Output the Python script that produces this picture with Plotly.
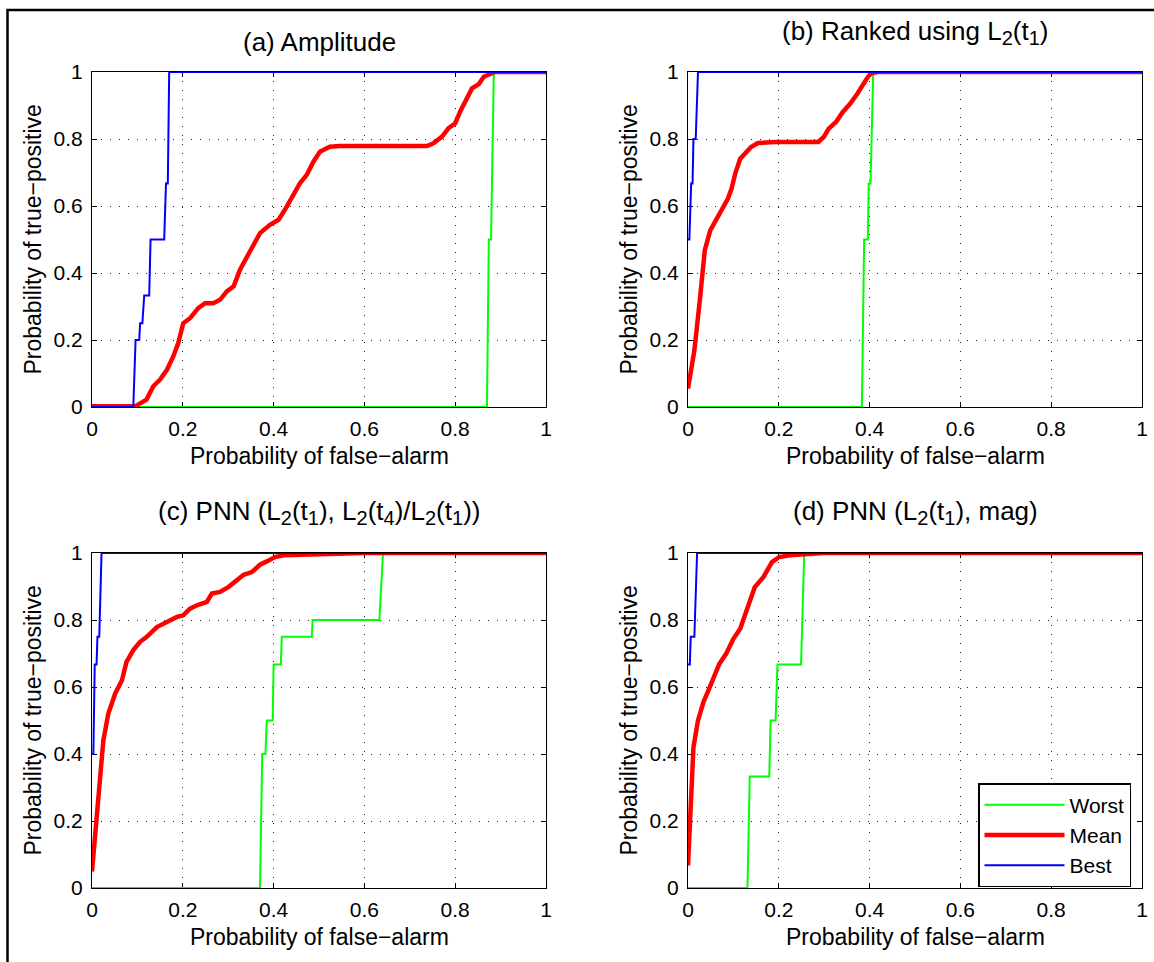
import plotly.graph_objects as go

# ---------------- data ----------------
TICK_VALS = [0, 0.2, 0.4, 0.6, 0.8, 1]
TICK_TEXT = ["0", "0.2", "0.4", "0.6", "0.8", "1"]
SERIES_NAMES = ["Worst", "Mean", "Best"]


def sub(s):
    return f'<sub><span style="font-size:20px">{s}</span></sub>'


PANEL_TITLES = [
    "(a) Amplitude",
    f"(b) Ranked using L{sub(2)}(t{sub(1)})",
    f"(c) PNN (L{sub(2)}(t{sub(1)}), L{sub(2)}(t{sub(4)})/L{sub(2)}(t{sub(1)}))",
    f"(d) PNN (L{sub(2)}(t{sub(1)}), mag)",
]
X_LABEL = "Probability of false−alarm"
Y_LABEL = "Probability of true−positive"

# (a) Amplitude
A_WORST_X = [0, 0.870, 0.874, 0.879, 0.885, 1]
A_WORST_Y = [0, 0, 0.5, 0.5, 1, 1]
A_MEAN_X = [0, 0.095, 0.12, 0.135, 0.15, 0.165, 0.179, 0.190, 0.201, 0.216, 0.234, 0.249,
            0.267, 0.282, 0.297, 0.312, 0.326, 0.341, 0.352, 0.370, 0.392, 0.411, 0.429,
            0.444, 0.458, 0.473, 0.488, 0.502, 0.524, 0.546, 0.738, 0.752, 0.771, 0.785,
            0.800, 0.811, 0.826, 0.837, 0.852, 0.863, 0.877, 0.888, 1]
A_MEAN_Y = [0.002, 0.002, 0.022, 0.062, 0.082, 0.111, 0.151, 0.191, 0.25, 0.265, 0.295, 0.31,
            0.31, 0.32, 0.345, 0.36, 0.41, 0.449, 0.479, 0.519, 0.544, 0.559, 0.598,
            0.633, 0.668, 0.693, 0.733, 0.762, 0.777, 0.779, 0.779, 0.787, 0.807, 0.832,
            0.847, 0.882, 0.921, 0.951, 0.964, 0.986, 0.994, 1.0, 1.0]
A_BEST_X = [0, 0.091, 0.096, 0.104, 0.106, 0.111, 0.115, 0.126, 0.129, 0.159, 0.163, 0.167, 0.170, 1]
A_BEST_Y = [0, 0, 0.2, 0.2, 0.25, 0.25, 0.333, 0.333, 0.5, 0.5, 0.667, 0.667, 1, 1]

# (b) Ranked using L2(t1)
B_WORST_X = [0, 0.383, 0.388, 0.396, 0.398, 0.402, 0.408, 1]
B_WORST_Y = [0, 0, 0.5, 0.5, 0.667, 0.667, 1, 1]
B_MEAN_X = [0, 0.014, 0.026, 0.037, 0.049, 0.065, 0.076, 0.088, 0.096, 0.104, 0.115, 0.127,
            0.139, 0.154, 0.193, 0.287, 0.299, 0.310, 0.326, 0.341, 0.357, 0.373, 0.384,
            0.396, 0.404, 0.42, 1]
B_MEAN_Y = [0.055, 0.169, 0.318, 0.468, 0.527, 0.567, 0.592, 0.622, 0.652, 0.697, 0.741, 0.761,
            0.776, 0.788, 0.791, 0.791, 0.806, 0.831, 0.851, 0.881, 0.905, 0.935, 0.960,
            0.985, 0.997, 1.0, 1.0]
B_BEST_X = [0, 0.003, 0.007, 0.010, 0.012, 0.017, 0.022, 1]
B_BEST_Y = [0.5, 0.5, 0.667, 0.667, 0.8, 0.8, 1, 1]

# (c) PNN (L2(t1), L2(t4)/L2(t1))
C_WORST_X = [0, 0.370, 0.375, 0.382, 0.385, 0.398, 0.400, 0.416, 0.418, 0.484, 0.486, 0.633, 0.641, 1]
C_WORST_Y = [0, 0, 0.4, 0.4, 0.5, 0.5, 0.667, 0.667, 0.75, 0.75, 0.8, 0.8, 1, 1]
C_MEAN_X = [0, 0.010, 0.018, 0.025, 0.036, 0.051, 0.066, 0.076, 0.091, 0.106, 0.120, 0.143,
            0.165, 0.187, 0.201, 0.216, 0.231, 0.253, 0.264, 0.282, 0.301, 0.319, 0.334,
            0.352, 0.370, 0.385, 0.403, 0.422, 0.488, 0.561, 0.6, 1]
C_MEAN_Y = [0.049, 0.223, 0.352, 0.441, 0.521, 0.580, 0.620, 0.675, 0.710, 0.735, 0.749, 0.779,
            0.794, 0.809, 0.814, 0.834, 0.844, 0.854, 0.879, 0.884, 0.899, 0.918, 0.935,
            0.943, 0.965, 0.975, 0.988, 0.993, 0.996, 0.999, 1.0, 1.0]
C_BEST_X = [0, 0.003, 0.006, 0.010, 0.012, 0.016, 0.021, 1]
C_BEST_Y = [0.4, 0.4, 0.667, 0.667, 0.75, 0.75, 1, 1]

# (d) PNN (L2(t1), mag)
D_WORST_X = [0, 0.131, 0.136, 0.179, 0.182, 0.193, 0.197, 0.249, 0.256, 1]
D_WORST_Y = [0, 0, 0.333, 0.333, 0.5, 0.5, 0.667, 0.667, 1, 1]
D_MEAN_X = [0, 0.006, 0.012, 0.022, 0.034, 0.045, 0.057, 0.069, 0.084, 0.100, 0.115, 0.131,
            0.147, 0.166, 0.185, 0.201, 0.224, 0.256, 0.3, 1]
D_MEAN_Y = [0.067, 0.271, 0.420, 0.5, 0.555, 0.590, 0.629, 0.669, 0.699, 0.744, 0.774, 0.839,
            0.898, 0.928, 0.973, 0.988, 0.993, 0.996, 1.0, 1.0]
D_BEST_X = [0, 0.004, 0.006, 0.014, 0.020, 1]
D_BEST_Y = [0.667, 0.667, 0.75, 0.75, 1, 1]

# ---------------- figure ----------------
W, H = 1154, 962
FONT = "Liberation Sans, Arial, Helvetica, sans-serif"
TICK_SIZE = 21
LABEL_SIZE = 23
TITLE_SIZE = 26
LEGEND_SIZE = 21

# axes boxes in pixels: (left, right, top, bottom)
BOXES = [(92, 546, 72, 407), (688, 1142, 72, 407), (92, 546, 553, 888), (688, 1142, 553, 888)]
TITLE_Y_PX = [42, 32, 512, 512]

panels = [
    (A_WORST_X, A_WORST_Y, A_MEAN_X, A_MEAN_Y, A_BEST_X, A_BEST_Y),
    (B_WORST_X, B_WORST_Y, B_MEAN_X, B_MEAN_Y, B_BEST_X, B_BEST_Y),
    (C_WORST_X, C_WORST_Y, C_MEAN_X, C_MEAN_Y, C_BEST_X, C_BEST_Y),
    (D_WORST_X, D_WORST_Y, D_MEAN_X, D_MEAN_Y, D_BEST_X, D_BEST_Y),
]
styles = [("#00ff00", 2), ("#ff0000", 4.5), ("#0000ff", 2)]

fig = go.Figure()
layout = dict(
    width=W, height=H, autosize=False,
    margin=dict(l=0, r=0, t=0, b=0, pad=0),
    paper_bgcolor="white", plot_bgcolor="white",
    font=dict(family=FONT, size=TICK_SIZE, color="black"),
    showlegend=True,
    legend=dict(
        x=1131 / W, xanchor="right", y=1 - 783 / H, yanchor="top",
        bgcolor="white", bordercolor="black", borderwidth=1.5,
        font=dict(family=FONT, size=LEGEND_SIZE, color="black"),
        itemwidth=80, tracegroupgap=0,
    ),
)
annotations = []

for i, (box, data) in enumerate(zip(BOXES, panels)):
    l, r, t, b = box
    xa = "xaxis" if i == 0 else f"xaxis{i + 1}"
    ya = "yaxis" if i == 0 else f"yaxis{i + 1}"
    xref = "x" if i == 0 else f"x{i + 1}"
    yref = "y" if i == 0 else f"y{i + 1}"
    axis_common = dict(
        range=[0, 1], tickvals=TICK_VALS, ticktext=TICK_TEXT,
        showline=True, linecolor="black", linewidth=1, mirror="ticks",
        ticks="inside", ticklen=5, tickcolor="black", tickwidth=1,
        showgrid=True, gridcolor="#222222", gridwidth=1, griddash="1px,8px",
        zeroline=False, fixedrange=True, layer="below traces", automargin=False,
        tickfont=dict(family=FONT, size=TICK_SIZE, color="black"),
    )
    layout[xa] = dict(axis_common, domain=[l / W, r / W], anchor=yref, ticklabelstandoff=3)
    layout[ya] = dict(axis_common, domain=[1 - b / H, 1 - t / H], anchor=xref, ticklabelstandoff=4)

    for k in range(3):
        xs, ys = data[2 * k], data[2 * k + 1]
        color, width = styles[k]
        fig.add_trace(go.Scatter(
            x=xs, y=ys, mode="lines", name=SERIES_NAMES[k],
            line=dict(color=color, width=width),
            xaxis=xref, yaxis=yref, showlegend=(i == 3), hoverinfo="skip",
        ))

    # panel title
    annotations.append(dict(
        text=PANEL_TITLES[i], x=(l + r) / 2 / W, y=1 - TITLE_Y_PX[i] / H,
        xref="paper", yref="paper", xanchor="center", yanchor="middle",
        showarrow=False, font=dict(family=FONT, size=TITLE_SIZE, color="black"),
    ))
    # x-axis label
    annotations.append(dict(
        text=X_LABEL, x=(l + r) / 2 / W, y=1 - (b + 49) / H,
        xref="paper", yref="paper", xanchor="center", yanchor="middle",
        showarrow=False, font=dict(family=FONT, size=LABEL_SIZE, color="black"),
    ))
    # y-axis label
    annotations.append(dict(
        text=Y_LABEL, x=(l - 60) / W, y=1 - (t + b) / 2 / H,
        xref="paper", yref="paper", xanchor="center", yanchor="middle",
        textangle=-90, showarrow=False, font=dict(family=FONT, size=LABEL_SIZE, color="black"),
    ))

layout["annotations"] = annotations
layout["shapes"] = [dict(
    type="path", xref="paper", yref="paper",
    path=f"M {7.5 / W} 0 L {7.5 / W} {1 - 10 / H} L 1 {1 - 10 / H}",
    line=dict(color="black", width=2.5), layer="above",
)]
fig.update_layout(**layout)
fig.write_html(
    "out.html",
    post_script="document.body.style.margin='0';document.body.style.padding='0';",
)
